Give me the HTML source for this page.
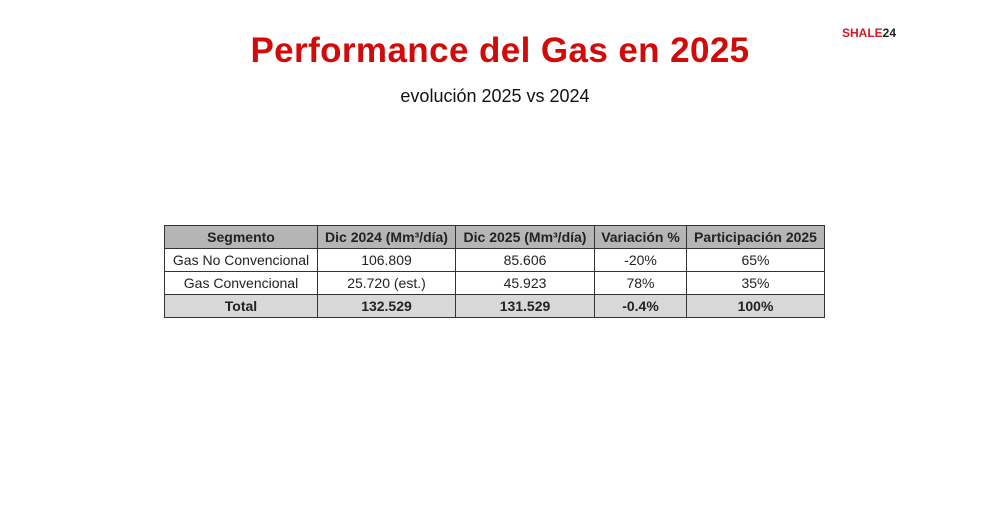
<!DOCTYPE html>
<html><head><meta charset="utf-8"><style>
body{margin:0;width:990px;height:520px;background:#fff;position:relative;font-family:"Liberation Sans",sans-serif;overflow:hidden}
.t{position:absolute;left:0;width:1000px;text-align:center;top:31px;font-size:35px;font-weight:bold;color:#d10a0a;letter-spacing:0.4px}
.s{position:absolute;left:0;width:990px;text-align:center;top:86px;font-size:18px;color:#111}
.l{position:absolute;left:842px;top:26px;font-size:12px;font-weight:bold;color:#d71920}
.l b{color:#222}
table{position:absolute;left:164px;top:225px;border-collapse:collapse;font-size:14px;color:#222}
td{border:1px solid #333;text-align:center;height:22px;padding:0}
tr.h td,tr.f td{background:#d8d8d8;font-weight:bold}
tr.h td{background:#b5b5b5}
</style></head><body>
<div class="t">Performance del Gas en 2025</div>
<div class="s">evolución 2025 vs 2024</div>
<div class="l">SHALE<b>24</b></div>
<table>
<tr class="h"><td style="width:152px">Segmento</td><td style="width:137px">Dic 2024 (Mm³/día)</td><td style="width:138px">Dic 2025 (Mm³/día)</td><td style="width:91px">Variación %</td><td style="width:137px">Participación 2025</td></tr>
<tr><td>Gas No Convencional</td><td>106.809</td><td>85.606</td><td>-20%</td><td>65%</td></tr>
<tr><td>Gas Convencional</td><td>25.720 (est.)</td><td>45.923</td><td>78%</td><td>35%</td></tr>
<tr class="f"><td>Total</td><td>132.529</td><td>131.529</td><td>-0.4%</td><td>100%</td></tr>
</table>
</body></html>
